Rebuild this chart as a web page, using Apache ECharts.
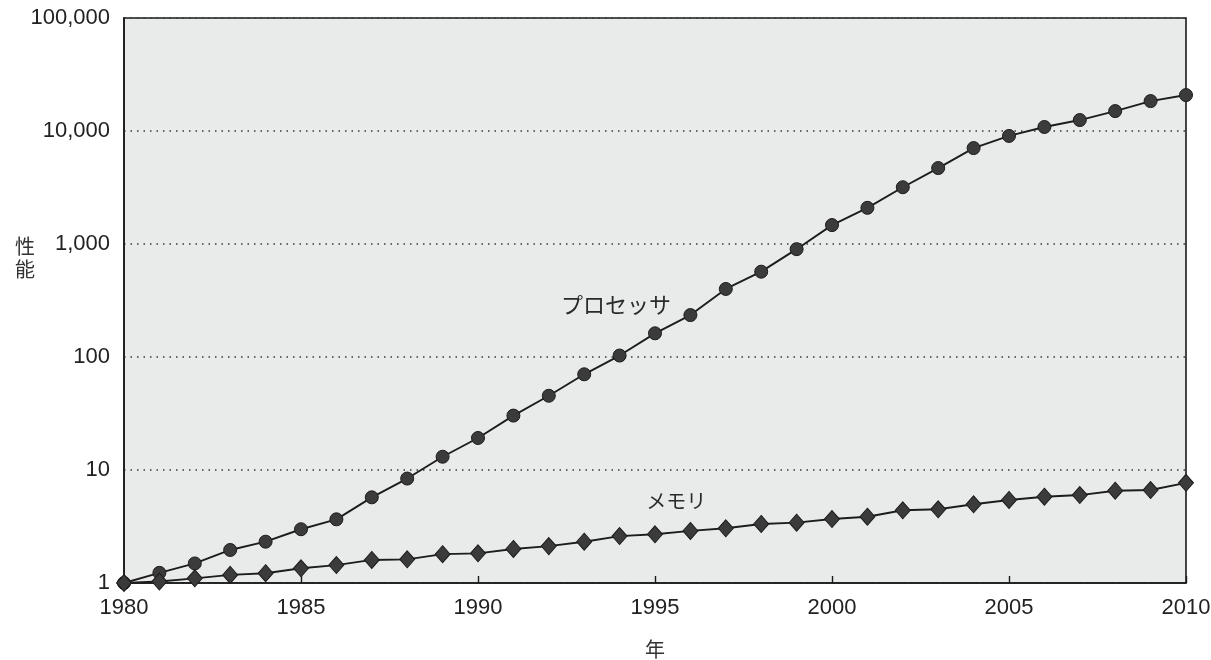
<!DOCTYPE html>
<html>
<head>
<meta charset="utf-8">
<script src="https://cdn.jsdelivr.net/npm/echarts@6/dist/echarts.min.js"></script>
<style>
  html, body { margin: 0; padding: 0; background: #ffffff; }
  #chart { width: 1211px; height: 660px; }
</style>
</head>
<body>
<div id="chart"></div>
<script>
// Years on the horizontal axis
const years = [];
for (let y = 1980; y <= 2010; y++) years.push(y);

// Relative performance (1980 = 1)
const processor = [1, 1.23, 1.49, 1.96, 2.32, 2.99, 3.66, 5.73, 8.4, 13.1,
  19.2, 30.3, 45.4, 70.3, 103, 162, 235, 400, 569, 900,
  1470, 2090, 3180, 4700, 7060, 9040, 10850, 12500, 15000, 18400, 20800];
const memory = [1, 1.03, 1.1, 1.18, 1.22, 1.35, 1.44, 1.6, 1.62, 1.8,
  1.83, 2.0, 2.12, 2.32, 2.6, 2.7, 2.89, 3.05, 3.33, 3.42,
  3.68, 3.86, 4.4, 4.49, 4.97, 5.43, 5.8, 6.0, 6.56, 6.65, 7.7];

// Series names and where their captions sit (in data coordinates)
const processorName = 'プロセッサ';
const memoryName = 'メモリ';
const processorCaptionAt = [1993.9, 290];
const memoryCaptionAt = [1995.6, 5.3];

const xTicks = [1980, 1985, 1990, 1995, 2000, 2005, 2010];
const yTicks = [1, 10, 100, 1000, 10000, 100000];
const xName = '年';
const yName = '性\n能';

const latin = '"Liberation Sans", Arial, "Noto Sans CJK JP", sans-serif';
const cjk = '"Noto Sans CJK JP", "Noto Sans", sans-serif';

function pairs(vals) { return years.map((y, i) => [y, vals[i]]); }

function caption(text, at, size) {
  return {
    symbol: 'circle',
    symbolSize: 0,
    silent: true,
    data: [{
      coord: at,
      label: {
        show: true, position: 'inside', formatter: text,
        fontFamily: cjk, fontSize: size, color: '#2a2a2a'
      }
    }]
  };
}

const chart = echarts.init(document.getElementById('chart'), null, { renderer: 'canvas' });
chart.setOption({
  animation: false,
  backgroundColor: '#ffffff',
  grid: {
    left: 124, right: 25, top: 18, bottom: 77,
    outerBoundsMode: 'none', containLabel: false,
    show: true, backgroundColor: '#e9ebeb',
    borderColor: '#1a1a1a', borderWidth: 1.6
  },
  // vertical axis title, stacked beside the 1,000 label
  graphic: [{
    type: 'text', left: 15, top: 235, silent: true,
    style: { text: yName, font: '20px ' + cjk, fill: '#333', lineHeight: 23 }
  }],
  xAxis: {
    type: 'value', min: 1980, max: 2010, interval: 5,
    name: xName, nameLocation: 'middle', nameGap: 56,
    nameTextStyle: { fontFamily: cjk, fontSize: 20, color: '#333' },
    axisLine: { show: true, lineStyle: { color: '#1a1a1a', width: 1.6 } },
    axisTick: { show: true, inside: true, length: 7, lineStyle: { color: '#1a1a1a', width: 1.4 } },
    splitLine: { show: false },
    axisLabel: {
      margin: 14, fontFamily: latin, fontSize: 22, color: '#222',
      formatter: v => (xTicks.includes(v) ? String(v) : '')
    }
  },
  yAxis: {
    type: 'log', logBase: 10, min: 1, max: 100000,
    axisLine: { show: true, lineStyle: { color: '#1a1a1a', width: 1.6 } },
    axisTick: { show: false },
    splitLine: { show: true, lineStyle: { color: '#3a3a3a', width: 1.5, type: [1.5, 5] } },
    axisLabel: {
      margin: 14, fontFamily: latin, fontSize: 22, color: '#222',
      formatter: v => (yTicks.includes(Math.round(v)) ? Math.round(v).toLocaleString('en-US') : '')
    }
  },
  series: [
    {
      name: processorName, type: 'line', data: pairs(processor),
      symbol: 'circle', symbolSize: 13,
      lineStyle: { color: '#1c1c1c', width: 1.9 },
      itemStyle: { color: '#3b3b3b', borderColor: '#1c1c1c', borderWidth: 1 },
      markPoint: caption(processorName, processorCaptionAt, 22),
      z: 3
    },
    {
      name: memoryName, type: 'line', data: pairs(memory),
      symbol: 'diamond', symbolSize: [15, 17],
      lineStyle: { color: '#1c1c1c', width: 1.9 },
      itemStyle: { color: '#3b3b3b', borderColor: '#1c1c1c', borderWidth: 1 },
      markPoint: caption(memoryName, memoryCaptionAt, 20),
      z: 4
    }
  ]
});
</script>
</body>
</html>
